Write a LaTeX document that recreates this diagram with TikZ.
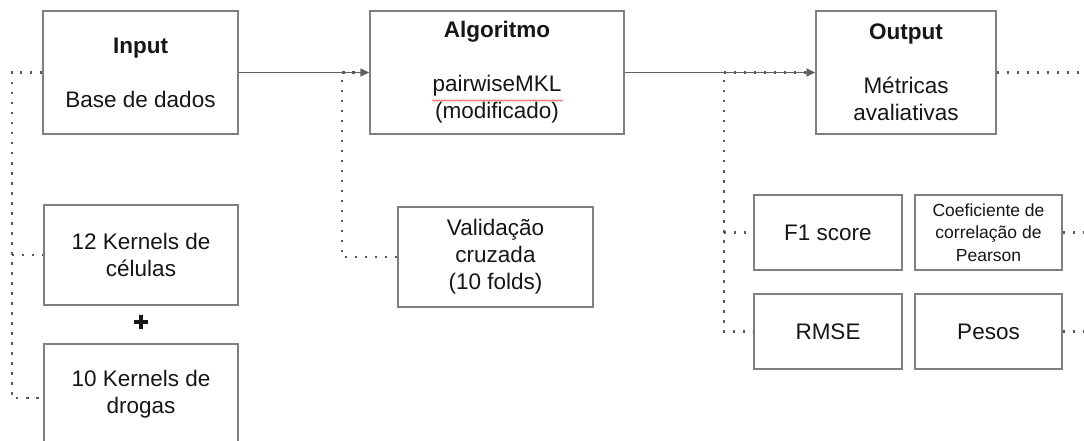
\documentclass[tikz,border=0pt]{standalone}
\usepackage{fontspec}
\setmainfont{Liberation Sans}
\newfontfamily\heavyplus[FakeBold=3]{Liberation Sans Bold}
\usetikzlibrary{arrows.meta,decorations.pathmorphing}
\definecolor{boxgray}{HTML}{808080}
\definecolor{lingray}{HTML}{606060}
\definecolor{dotgray}{HTML}{5A5A5A}
\definecolor{txt}{HTML}{161616}
\begin{document}
\begin{tikzpicture}[x=1pt,y=-1pt,
  box/.style={draw=boxgray,line width=1.4pt,align=center,inner sep=0pt,text=txt,
    font=\fontsize{22.5}{27}\selectfont},
  smallbox/.style={box,font=\fontsize{17.5}{22.5}\selectfont},
  dotline/.style={draw=dotgray,line width=2.3pt,dash pattern=on 2.3pt off 7.7pt},
  flow/.style={draw=lingray,line width=1.4pt,-{Triangle[length=9pt,width=8pt]}}]
\useasboundingbox (0,0) rectangle (1084,441);

% main stages
\node[box,minimum width=195pt,minimum height=123pt] (in) at (140.5,72.5)
  {\textbf{Input}\\[27pt]Base de dados};
\node[box,minimum width=254pt,minimum height=123pt] (alg) at (497,72.5)
  {\textbf{Algoritmo}\\[27pt]pairwiseMKL\\(modificado)};
\node[box,minimum width=180pt,minimum height=123pt] (out) at (906,72.5)
  {\textbf{Output}\\[27pt]Métricas\\avaliativas};

% inputs
\node[box,minimum width=194pt,minimum height=100pt] (k1) at (141,255)
  {12 Kernels de\\células};
\node[text=txt,font=\fontsize{26}{26}\heavyplus] (plus) at (141,323) {+};
\node[box,minimum width=194pt,minimum height=100pt] (k2) at (141,394)
  {10 Kernels de\\drogas};

% validation
\node[box,minimum width=195pt,minimum height=100pt] (val) at (495.5,257)
  {Validação\\cruzada\\(10 folds)};

% metrics
\node[box,minimum width=148pt,minimum height=75pt] (f1) at (828,232.5) {F1 score};
\node[smallbox,minimum width=147pt,minimum height=75pt] (coef) at (988.5,232.5)
  {Coeficiente de\\correlação de\\Pearson};
\node[box,minimum width=148pt,minimum height=75pt] (rmse) at (828,331.5) {RMSE};
\node[box,minimum width=147pt,minimum height=75pt] (pesos) at (988.5,331.5) {Pesos};

% spell-check underline
\draw[red!80,line width=0.5pt,decorate,decoration={snake,amplitude=0.8pt,segment length=3pt}]
  (432,100.5) -- (563,100.5);

% rails for the dotted links
\coordinate (lx) at (12,0);
\coordinate (vx) at (342,0);
\coordinate (mx) at (724,0);
\coordinate (rx) at (1084,0);

% main flow
\draw[flow] (in.east) -- (alg.west);
\draw[flow] (alg.east) -- (out.west);

% dotted links
\draw[dotline] (in.west) -- (in.west -| lx) |- ([yshift=-4pt]k2.west);
\draw[dotline] (k1.west -| lx) -- (k1.west);
\draw[dotline] (val.west) -| (alg.west -| vx) -- ([xshift=-9pt]alg.west);
\draw[dotline] ([xshift=-9pt]out.west) -- (out.west -| mx) |- (rmse.west);
\draw[dotline] (f1.west -| mx) -- (f1.west);
\draw[dotline] (out.east) -- (out.east -| rx);
\draw[dotline] (coef.east) -- (coef.east -| rx);
\draw[dotline] (pesos.east) -- (pesos.east -| rx);
\end{tikzpicture}
\end{document}
